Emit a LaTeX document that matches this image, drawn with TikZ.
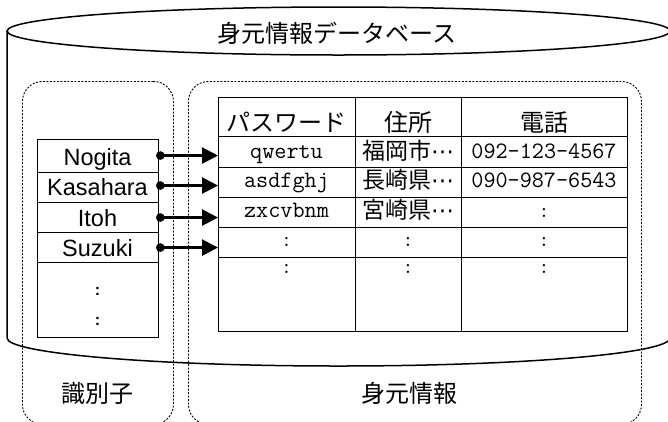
\documentclass[tikz,border=0pt]{standalone}
\usepackage{fontspec}
\setmainfont{Liberation Sans}
\newfontfamily\jp{Noto Sans CJK JP}
\newfontfamily\dv{DejaVu Sans}
\newcommand{\mdots}{{\dv ⋯}}
\usetikzlibrary{arrows.meta}
\begin{document}
\begin{tikzpicture}[x=1pt,y=-1pt,
  cyl/.style={line width=1.5pt},
  grp/.style={draw, dash pattern=on 2pt off 1.5pt, line width=0.9pt, rounded corners=20pt, inner sep=0pt, anchor=north west},
  cell/.style={draw, line width=1.1pt, inner sep=0pt, anchor=north west},
  nm/.style={font=\fontsize{23.5}{28}\selectfont, anchor=base, inner sep=0pt},
  hd/.style={font=\jp\fontsize{24}{28}\selectfont, anchor=base, inner sep=0pt},
  tx/.style={font=\ttfamily\fontsize{23.5}{28}\selectfont, anchor=base, inner sep=0pt},
  jtx/.style={font=\jp\fontsize{23}{28}\selectfont, anchor=base, inner sep=0pt},
  dts/.style={font=\ttfamily\fontsize{21}{24}\selectfont, anchor=base, inner sep=0pt},
  sdts/.style={font=\bfseries\fontsize{16}{18}\selectfont, anchor=base, inner sep=0pt},
  link/.style={line width=2.5pt, {Circle[length=8.5pt]}-{Triangle[length=16pt,width=16pt]}},
]
\useasboundingbox (0,0) rectangle (668,421);
\clip (0,0) rectangle (668,421);

% cylinder
\draw[cyl] (338.5,31) ellipse [x radius=331.5pt, y radius=24pt];
\draw[cyl] (7,31) -- (7,338) .. controls (7,353.5) and (155.4,366) .. (338.5,366)
  .. controls (521.6,366) and (670,353.5) .. (670,338) -- (670,31);
\node[font=\jp\fontsize{24}{28}\selectfont, inner sep=0pt] (title) at (337,33) {身元情報データベース};

% groups
\node[grp, minimum width=151pt, minimum height=343pt] (idgrp) at (22,81) {};
\node[grp, minimum width=453pt, minimum height=343pt] (infogrp) at (188,81) {};

% identifier table
\node[cell, minimum width=121pt, minimum height=33pt] (id1) at (37,139) {};
\node[cell, minimum width=121pt, minimum height=30pt] (id2) at (37,172) {};
\node[cell, minimum width=121pt, minimum height=30pt] (id3) at (37,202) {};
\node[cell, minimum width=121pt, minimum height=30pt] (id4) at (37,232) {};
\node[cell, minimum width=121pt, minimum height=75pt] (id5) at (37,262) {};
\node[nm] (l1) at (97.5,165) {Nogita};
\node[nm] (l2) at (97.5,195.5) {Kasahara};
\node[nm] (l3) at (97.5,226.5) {Itoh};
\node[nm] (l4) at (97.5,256) {Suzuki};
\node[sdts] (ld1) at (97.5,295) {:};
\node[sdts] (ld2) at (97.5,325) {:};

% main table
\foreach \c/\x/\w in {1/218/137, 2/355/106, 3/461/166}
  \foreach \r/\y/\h in {0/97/39, 1/136/31, 2/167/30, 3/197/30, 4/227/30, 5/257/74}
    \node[cell, minimum width=\w pt, minimum height=\h pt] (c-\r-\c) at (\x,\y) {};

\node[hd] (h1) at (286.5,131) {パスワード};
\node[hd] (h2) at (408,131) {住所};
\node[hd] (h3) at (544,131) {電話};

\node[tx] (t11) at (286.5,158) {qwertu};
\node[jtx] (t12) at (408,159.5) {福岡市\mdots};
\node[tx] (t13) at (544,158) {092-123-4567};
\node[tx] (t21) at (286.5,187) {asdfghj};
\node[jtx] (t22) at (408,188.5) {長崎県\mdots};
\node[tx] (t23) at (544,187) {090-987-6543};
\node[tx] (t31) at (286.5,217) {zxcvbnm};
\node[jtx] (t32) at (408,218.5) {宮崎県\mdots};
\node[dts] (t33) at (544,217) {:};
\node[dts] (t41) at (286.5,246) {:};
\node[dts] (t42) at (408,246) {:};
\node[dts] (t43) at (544,246) {:};
\node[dts] (t51) at (286.5,273) {:};
\node[dts] (t52) at (408,273) {:};
\node[dts] (t53) at (544,273) {:};

% arrows
\coordinate (a1) at ([shift={(-3pt,0.5pt)}]id1.east);
\coordinate (a2) at ([shift={(-3pt,2pt)}]id2.east);
\coordinate (a3) at ([xshift=-3pt]id3.east);
\coordinate (a4) at ([xshift=-3pt]id4.east);
\foreach \k in {1,2,3,4}
  \draw[link] (a\k) -- (a\k -| c-1-1.west);

% bottom labels
\node[hd] (lid) at (97.5,402) {識別子};
\node[hd] (linfo) at (409,402) {身元情報};
\end{tikzpicture}
\end{document}
